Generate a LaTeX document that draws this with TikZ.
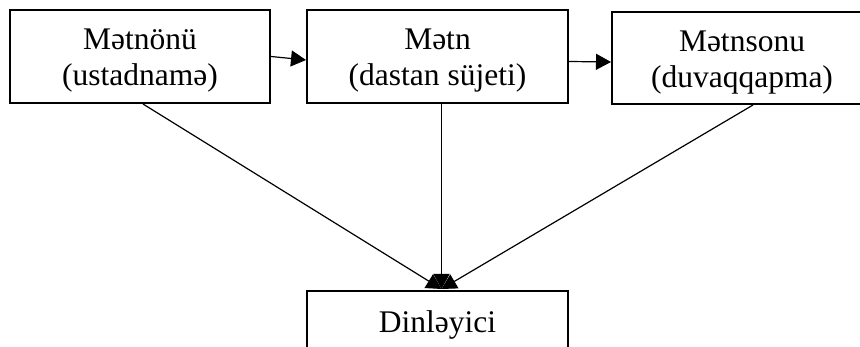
\documentclass[tikz,border=0pt]{standalone}
\usepackage{fontspec}
\setmainfont{Liberation Serif}
\usetikzlibrary{arrows.meta}
\begin{document}
\begin{tikzpicture}[x=1pt,y=-1pt,
  box/.style={draw, line width=2pt, inner sep=0pt, minimum width=260pt,
    align=center, font=\fontsize{31.5}{36}\selectfont},
  twoline/.style={box, minimum height=93pt, text height=61pt, text depth=2pt},
  link/.style={line width=1.2pt, -{Triangle[length=15pt,width=16pt]}}]
\clip (0,0) rectangle (860,347);
% upper row: the three parts of the narrative
\node[twoline] (m1) at (140,56.5) {Mətnönü\\(ustadnamə)};
\node[twoline, minimum width=261pt] (m2) at (437.5,56.5) {Mətn\\(dastan süjeti)};
\node[twoline, minimum height=92pt] (m3) at (742,58) {Mətnsonu\\(duvaqqapma)};
% the listener below
\node[box, minimum width=261pt, minimum height=68pt] (d) at (437.5,325) {Dinləyici};
% sequence arrows
\draw[link] (m1.east) -- ([yshift=-3.5pt]m2.west);
\draw[link] ([yshift=-5pt]m2.east) -- ([yshift=-4pt]m3.west);
% converging arrows
\coordinate (tip) at ([xshift=4pt,yshift=1pt]d.north);
\draw[link] ([xshift=3pt]m1.south) -- (tip);
\draw[link] ([xshift=4pt]m2.south) -- (tip);
\draw[link] ([xshift=11pt]m3.south) -- (tip);
\end{tikzpicture}
\end{document}
